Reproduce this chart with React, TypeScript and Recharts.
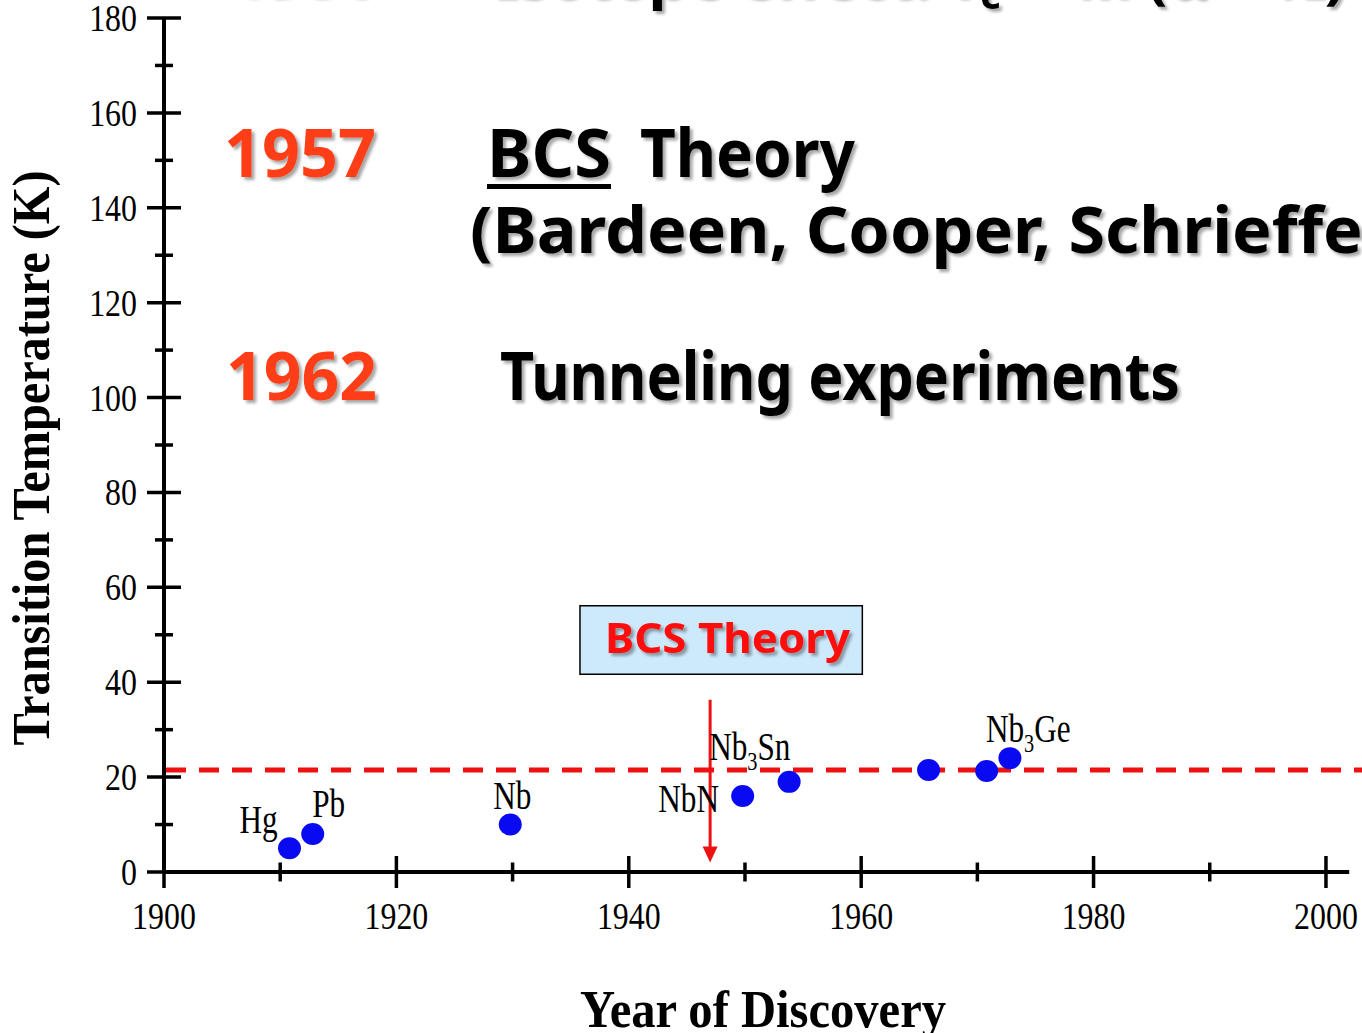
import {
  ScatterChart, Scatter, XAxis, YAxis, ReferenceLine, ReferenceArea, Customized,
} from 'recharts'

// discovery year / transition temperature of each material
const years = [1910.8, 1912.8, 1929.8, 1949.8, 1953.8, 1965.8, 1970.8, 1972.8]
const tcValues = [5, 8, 10, 16, 19, 21.5, 21.3, 24]
const names = ['Hg', 'Pb', 'Nb', 'NbN', 'Nb3Sn', '', '', 'Nb3Ge']

const xTicks = [1900, 1910, 1920, 1930, 1940, 1950, 1960, 1970, 1980, 1990, 2000]
const yTicks = [0, 10, 20, 30, 40, 50, 60, 70, 80, 90, 100, 110, 120, 130, 140, 150, 160, 170, 180]

const bcsLimit = 21.5
const arrowYear = 1947
const arrowFrom = 36.3
const arrowTo = 2
const boxYears = [1935.8, 1960.1]
const boxTc = [41.7, 56.1]

const data = years.map((year, i) => ({ year, tc: tcValues[i], name: names[i] }))

const SERIF = '"Liberation Serif", "Times New Roman", serif'
const COMIC = '"Comic Sans MS", "Noto Sans", sans-serif'
const RED = '#ee1111'
const ORANGE = '#ff3c12'

// label placement relative to the dot centre
const LABEL_POS: Record<string, { dx: number; dy: number; anchor: 'start' | 'middle' }> = {
  Hg: { dx: -31, dy: -15, anchor: 'middle' },
  Pb: { dx: 16, dy: -17, anchor: 'middle' },
  Nb: { dx: 2, dy: -16, anchor: 'middle' },
  NbN: { dx: -54, dy: 16, anchor: 'middle' },
  Nb3Sn: { dx: -80, dy: -22, anchor: 'start' },
  Nb3Ge: { dx: -24, dy: -16, anchor: 'start' },
}

function ChemLabel({ x, y, name, anchor }: { x: number; y: number; name: string; anchor: string }) {
  const parts = name.split(/(\d)/).filter(Boolean)
  let down = false
  return (
    <text
      transform={`translate(${x},${y}) scale(0.78,1)`}
      textAnchor={anchor}
      fontFamily={SERIF}
      fontSize={40}
      fill="#000"
    >
      {parts.map((p, i) => {
        const isNum = /\d/.test(p)
        const dy = isNum ? 10 : down ? -10 : 0
        down = isNum
        return (
          <tspan key={i} dy={dy} fontSize={isNum ? 26 : 40}>{p}</tspan>
        )
      })}
    </text>
  )
}

function Dot(props: any) {
  const { cx, cy, payload } = props
  const pos = LABEL_POS[payload.name]
  return (
    <g>
      <ellipse cx={cx} cy={cy} rx={11.5} ry={11} fill="#0a0af2" />
      {pos && <ChemLabel x={cx + pos.dx} y={cy + pos.dy} name={payload.name} anchor={pos.anchor} />}
    </g>
  )
}

function YTick(props: any) {
  const { x, y, payload } = props
  const major = payload.value % 20 === 0
  const len = major ? 17 : 9
  return (
    <g>
      <line x1={x - len} x2={x + len} y1={y} y2={y} stroke="#000" strokeWidth={3.5} />
      {major && (
        <text transform={`translate(${x - 27},${y + 13}) scale(0.84,1)`} textAnchor="end"
          fontFamily={SERIF} fontSize={38} fill="#000">
          {payload.value}
        </text>
      )}
    </g>
  )
}

function XTick(props: any) {
  const { x, y, payload } = props
  const major = payload.value % 20 === 0
  const len = major ? 16 : 9.5
  return (
    <g>
      <line x1={x} x2={x} y1={y - len} y2={y + len} stroke="#000" strokeWidth={3.5} />
      {major && (
        <text transform={`translate(${x},${y + 57}) scale(0.84,1)`} textAnchor="middle"
          fontFamily={SERIF} fontSize={38} fill="#000">
          {payload.value}
        </text>
      )}
    </g>
  )
}

function Arrow(props: any) {
  const { x1, y1, x2, y2 } = props
  return (
    <g>
      <line x1={x1} y1={y1} x2={x2} y2={y2 - 14} stroke={RED} strokeWidth={3} />
      <polygon points={`${x2 - 7.5},${y2 - 16} ${x2 + 7.5},${y2 - 16} ${x2},${y2}`} fill={RED} />
    </g>
  )
}

function DashedLimit(props: any) {
  const { x1, y1, y2 } = props
  return (
    <line x1={x1 + 2} y1={y1} x2={1362} y2={y2} stroke={RED} strokeWidth={5}
      strokeDasharray="20 13" />
  )
}

function BoxLabel(props: any) {
  const { x, y } = props.viewBox
  return (
    <text x={x + 25} y={y + 47} fontFamily={COMIC} fontWeight="bold" fontSize={42}
      fill="#ff0a0a" textLength={245} lengthAdjust="spacingAndGlyphs" filter="url(#shadow)">
      BCS Theory
    </text>
  )
}

function Annotations() {
  const big = { fontFamily: COMIC, fontWeight: 'bold', fontSize: 66, filter: 'url(#shadow)' } as const
  return (
    <g>
      <defs>
        <filter id="shadow" x="-5%" y="-20%" width="115%" height="150%">
          <feDropShadow dx="3" dy="3" stdDeviation="1.5" floodColor="#000" floodOpacity="0.35" />
        </filter>
      </defs>
      <text x={230} y={-4} fill={ORANGE} textLength={148} lengthAdjust="spacingAndGlyphs" {...big}>1950</text>
      <text x={494} y={-3} fill="#000" {...big} fontSize={60}>
        Isotope effect: T<tspan dy={12} fontSize={40}>c</tspan><tspan dy={-12}> ∝ M</tspan>
        <tspan>    (α = ½)</tspan>
      </text>
      <text x={224} y={177} fill={ORANGE} textLength={152} lengthAdjust="spacingAndGlyphs" {...big}>1957</text>
      <text x={487} y={177} fill="#000" textLength={124} lengthAdjust="spacingAndGlyphs" {...big}>BCS</text>
      <rect x={487} y={184} width={124} height={5} fill="#000" />
      <text x={640} y={177} fill="#000" textLength={215} lengthAdjust="spacingAndGlyphs" {...big}>Theory</text>
      <text x={470} y={253} fill="#000" textLength={945} lengthAdjust="spacingAndGlyphs" {...big} fontSize={64}>
        (Bardeen, Cooper, Schrieffer)
      </text>
      <text x={226} y={400} fill={ORANGE} textLength={151} lengthAdjust="spacingAndGlyphs" {...big}>1962</text>
      <text x={500} y={400} fill="#000" textLength={680} lengthAdjust="spacingAndGlyphs" {...big}>
        Tunneling experiments
      </text>
      <text transform="translate(49,458) rotate(-90)" textAnchor="middle" fontFamily={SERIF}
        fontWeight="bold" fontSize={52} fill="#000" textLength={575} lengthAdjust="spacingAndGlyphs">
        Transition Temperature (K)
      </text>
      <text x={763} y={1027} textAnchor="middle" fontFamily={SERIF} fontWeight="bold" fontSize={52}
        fill="#000" textLength={366} lengthAdjust="spacingAndGlyphs">
        Year of Discovery
      </text>
    </g>
  )
}

export default function App() {
  return (
    <div style={{ position: 'absolute', left: 0, top: 0, background: '#fff' }}>
      <ScatterChart width={1362} height={1033} margin={{ top: 18, right: 12.8, bottom: 0, left: 0 }}>
        <XAxis
          type="number"
          dataKey="year"
          domain={[1900, 2002]}
          ticks={xTicks}
          interval={0}
          height={161}
          tickSize={0}
          tickMargin={0}
          tickLine={false}
          axisLine={{ stroke: '#000', strokeWidth: 4 }}
          tick={<XTick />}
          allowDataOverflow
        />
        <YAxis
          type="number"
          dataKey="tc"
          domain={[0, 180]}
          ticks={yTicks}
          interval={0}
          width={164}
          tickSize={0}
          tickMargin={0}
          tickLine={false}
          axisLine={{ stroke: '#000', strokeWidth: 4 }}
          tick={<YTick />}
          allowDataOverflow
        />
        <ReferenceArea
          x1={boxYears[0]}
          x2={boxYears[1]}
          y1={boxTc[0]}
          y2={boxTc[1]}
          fill="#cdeafc"
          fillOpacity={1}
          stroke="#000"
          strokeWidth={1.5}
          label={<BoxLabel />}
        />
        <Scatter data={data} shape={<Dot />} isAnimationActive={false} />
        <ReferenceLine y={bcsLimit} shape={<DashedLimit />} />
        <ReferenceLine
          segment={[{ x: arrowYear, y: arrowFrom }, { x: arrowYear, y: arrowTo }]}
          shape={<Arrow />}
        />
        <Customized component={Annotations} />
      </ScatterChart>
    </div>
  )
}
